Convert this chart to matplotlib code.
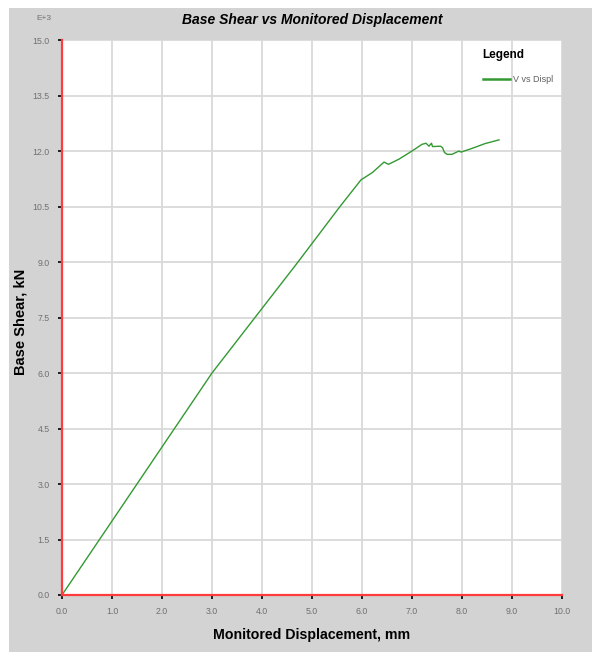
import matplotlib
matplotlib.use("Agg")
import matplotlib.pyplot as plt
from matplotlib.patches import Rectangle
from matplotlib.lines import Line2D

plt.rcParams['font.family'] = ['Liberation Sans', 'DejaVu Sans']

# pushover curve (shear in E+3 kN)
disp = [0.0, 1.0, 3.0, 3.86, 4.72, 5.0, 5.56, 5.98, 6.21, 6.44, 6.53, 6.74,
        7.0, 7.2, 7.28, 7.34, 7.39, 7.41, 7.57, 7.61, 7.65, 7.70, 7.80,
        7.94, 7.98, 8.20, 8.46, 8.74]
shear = [0.0, 2.0, 6.0, 7.5, 9.0, 9.5, 10.5, 11.22, 11.42, 11.70, 11.64, 11.78,
         12.0, 12.18, 12.21, 12.13, 12.21, 12.12, 12.13, 12.09, 11.96, 11.91, 11.91,
         12.0, 11.97, 12.07, 12.20, 12.30]

xticks = [0.0, 1.0, 2.0, 3.0, 4.0, 5.0, 6.0, 7.0, 8.0, 9.0, 10.0]
yticks = [0.0, 1.5, 3.0, 4.5, 6.0, 7.5, 9.0, 10.5, 12.0, 13.5, 15.0]

W, H = 592, 652
fig = plt.figure(figsize=(W / 100, H / 100), dpi=100)
fig.patch.set_facecolor('white')
fig.patches.append(Rectangle((9 / W, 0), 1, 1 - 8 / H, transform=fig.transFigure,
                             facecolor='#d3d3d3', edgecolor='none', zorder=-5))

ax = fig.add_axes([62 / W, (H - 595) / H, 500 / W, 555 / H])
ax.set_facecolor('white')

ax.plot(disp, shear, color='#339933', lw=1.0, zorder=3)

ax.set_xlim(0, 10)
ax.set_ylim(0, 15)
ax.set_xticks(xticks)
ax.set_yticks(yticks)
ax.set_xticklabels(['%.1f' % v for v in xticks])
ax.set_yticklabels(['%.1f' % v for v in yticks])
ax.grid(True, color='#d9d9d9', lw=1.3)
ax.set_axisbelow(True)

for s in ['top', 'right']:
    ax.spines[s].set_visible(False)
for s in ['left', 'bottom']:
    ax.spines[s].set_color('#ff3b3b')
    ax.spines[s].set_linewidth(1.6)
    ax.spines[s].set_zorder(4)

ax.tick_params(direction='out', length=3, width=1.2, color='black',
               labelcolor='#707070', labelsize=6.3, pad=6)

# titles and labels
fig.text(312 / W, 1 - 20 / H, 'Base Shear vs Monitored Displacement',
         ha='center', va='center', fontsize=10, fontweight='bold', style='italic')
fig.text(44 / W, 1 - 19 / H, 'E+3', ha='center', va='center',
         fontsize=6, color='#707070')
fig.text(312 / W, 1 - 635 / H, 'Monitored Displacement, mm',
         ha='center', va='center', fontsize=10.2, fontweight='bold')
fig.text(21 / W, 1 - 322 / H, 'Base Shear, kN', ha='center', va='center',
         rotation=90, fontsize=10.5, fontweight='bold')

# legend without a frame
handle = Line2D([], [], color='#339933', lw=1.8)
leg = ax.legend([handle], ['V vs Displ'], title='Legend', loc='upper left',
                bbox_to_anchor=(0.825, 0.998), frameon=False, fontsize=6.5,
                handlelength=3.0, handletextpad=0.4, labelspacing=1.5,
                alignment='left',
                title_fontproperties={'weight': 'bold', 'size': 8.5})
for t in leg.get_texts():
    t.set_color('#606060')

fig.savefig('out.png', dpi=100)
